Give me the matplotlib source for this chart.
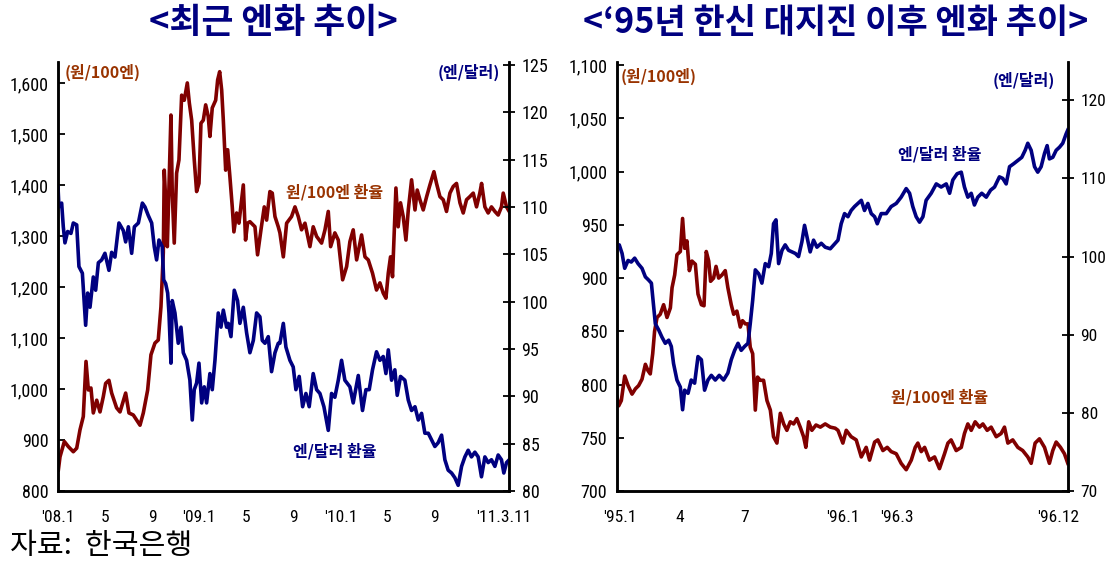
import matplotlib
matplotlib.use("Agg")
import matplotlib.pyplot as plt
from matplotlib import font_manager

# ---------------- data ----------------
# Left panel: months since '08.1
left_won_t = [0.03, 0.17, 0.54, 0.88, 1.30, 1.59, 1.87, 2.15, 2.38, 2.58, 2.80, 3.00, 3.29, 3.57, 3.85,
              4.05, 4.33, 4.56, 4.98, 5.27, 5.75, 6.03, 6.40, 6.97, 7.25, 7.62, 7.90, 8.24, 8.52, 8.75,
              8.95, 9.03, 9.15, 9.29, 9.43, 9.60, 9.71, 9.88, 10.08, 10.28, 10.51, 10.73, 10.99, 11.16,
              11.36, 11.58, 11.78, 11.98, 12.15, 12.35, 12.55, 12.77, 12.91, 13.11, 13.40, 13.57, 13.74,
              13.91, 14.05, 14.25, 14.42, 14.61, 14.81, 14.95, 15.18, 15.38, 15.75, 15.94, 16.11, 16.31,
              16.74, 16.96, 17.25, 17.53, 17.73, 18.01, 18.21, 18.44, 18.72,
              18.86, 19.15, 19.43, 19.85, 20.14, 20.42, 20.70, 20.99, 21.41, 21.69, 21.98, 22.40, 22.69,
              22.97, 23.17, 23.53, 23.82, 24.19, 24.53, 24.81, 25.09, 25.38, 25.80, 26.09, 26.37, 26.73,
              27.07, 27.36, 27.64, 27.87, 28.07, 28.26, 28.43, 28.72, 28.91, 29.11, 29.34, 29.57, 29.77,
              30.05, 30.34, 30.53, 30.76, 31.04, 31.33, 31.61, 31.95, 32.17, 32.46, 32.74, 33.02, 33.31,
              33.59, 33.87, 34.16, 34.44, 34.72, 35.00, 35.29, 35.57, 35.85, 36.00, 36.28, 36.56, 36.84,
              37.13, 37.41, 37.69, 37.84, 38.12, 38.35]
left_won = [841, 867, 897, 887, 877, 884, 920, 946, 1054, 998, 1002, 953, 978, 955, 985,
            1011, 1017, 992, 963, 955, 992, 953, 949, 929, 953, 998, 1067, 1090, 1096, 1161,
            1267, 1429, 1371, 1279, 1397, 1537, 1384, 1286, 1423, 1449, 1576, 1566, 1600, 1561,
            1527, 1449, 1387, 1403, 1521, 1527, 1557, 1534, 1495, 1551, 1566, 1606, 1622,
            1586, 1527, 1429, 1469, 1416, 1357, 1308, 1345, 1325, 1400, 1292, 1325, 1328,
            1318, 1263, 1312, 1357, 1331, 1387, 1384, 1338, 1318,
            1306, 1259, 1325, 1338, 1357, 1338, 1312, 1325, 1279, 1318, 1299, 1286, 1312,
            1348, 1279, 1306, 1292, 1214, 1240, 1289, 1312, 1253, 1302, 1259, 1253, 1227,
            1194, 1208, 1188, 1178, 1227, 1259, 1220, 1394, 1318, 1365, 1338, 1292, 1351,
            1410, 1351, 1390, 1371, 1351, 1377, 1400, 1426, 1403, 1377, 1371, 1348, 1384,
            1397, 1403, 1365, 1345, 1371, 1377, 1384, 1357, 1384, 1403, 1357, 1345, 1357,
            1348, 1341, 1357, 1384, 1357, 1348]

left_usd_t = [0.00, 0.08, 0.31, 0.45, 0.59, 0.82, 1.10, 1.30, 1.59, 1.78, 2.07, 2.35, 2.52, 2.72, 3.00,
              3.20, 3.43, 3.71, 3.99, 4.33, 4.56, 4.84, 5.18, 5.55, 5.75, 5.98, 6.26, 6.49, 6.83, 7.17,
              7.39, 7.67, 7.96, 8.18, 8.38, 8.58, 8.86, 8.98, 9.15, 9.32, 9.43, 9.60, 9.71, 9.94, 10.22,
              10.45, 10.65, 10.93, 11.21, 11.41, 11.58, 11.78, 11.98, 12.21, 12.43, 12.63, 12.91, 13.11,
              13.34, 13.62, 13.85, 14.05, 14.33, 14.47, 14.70, 14.98, 15.26, 15.46, 15.75, 16.03, 16.31,
              16.60, 16.88, 17.16, 17.36, 17.59, 17.87, 18.15, 18.44, 18.72,
              18.86, 19.15, 19.37, 19.71, 19.99, 20.22, 20.50, 20.79, 21.07, 21.35, 21.69, 21.98, 22.26,
              22.60, 22.97, 23.25, 23.53, 23.82, 24.10, 24.38, 24.81, 25.09, 25.52, 25.88, 26.17, 26.45,
              26.73, 27.07, 27.36, 27.64, 27.87, 28.07, 28.35, 28.63, 28.83, 29.11, 29.48, 29.77, 30.05,
              30.34, 30.62, 30.90, 31.18, 31.47, 31.75, 32.03, 32.31, 32.60, 32.88, 33.16, 33.45, 33.73,
              34.01, 34.30, 34.58, 34.86, 35.14, 35.43, 35.71, 35.99, 36.28, 36.56, 36.84, 37.13, 37.41,
              37.69, 37.89, 38.12, 38.35]
left_usd = [112.1, 110.0, 110.4, 107.9, 106.2, 107.4, 107.2, 108.3, 108.1, 103.7, 103.0, 97.5, 100.9, 99.4, 102.6,
            101.2, 104.1, 104.4, 105.1, 103.3, 105.2, 104.7, 108.3, 107.5, 106.3, 107.9, 105.1, 107.9, 108.3, 110.4,
            110.0, 109.1, 108.3, 105.8, 104.4, 106.5, 105.8, 102.3, 101.9, 100.9, 98.8, 93.5, 100.1, 98.8, 95.6,
            97.3, 94.6, 93.8, 91.7, 87.5, 90.7, 91.4, 93.5, 89.3, 91.0, 89.3, 92.4, 90.7,
            93.8, 98.8, 97.3, 99.1, 97.3, 97.7, 96.3, 101.2, 100.1, 97.7, 99.4, 96.7, 94.6,
            95.9, 98.8, 98.4, 95.9, 95.6, 96.3, 92.6, 94.6, 95.6,
            95.6, 97.7, 95.2, 93.8, 93.1, 90.7, 92.1, 88.9, 90.3, 88.9, 92.4, 90.7, 90.3,
            88.9, 86.4, 90.3, 89.9, 91.7, 93.8, 91.7, 91.0, 89.3, 92.2, 88.5, 90.7, 90.7,
            92.8, 94.7, 93.8, 94.2, 92.4, 94.9, 91.7, 92.8, 90.1, 92.1, 91.7, 89.6, 88.5,
            88.9, 87.5, 88.2, 86.1, 86.1, 85.4, 84.7, 85.1, 85.9, 83.3, 82.2, 81.9, 81.4,
            80.6, 82.6, 83.6, 84.3, 83.6, 84.1, 83.6, 81.5, 83.6, 83.0, 83.3, 82.6, 83.8,
            83.3, 81.9, 83.0, 83.3]

# Right panel: months since '95.1
right_won_t = [0.00, 0.09, 0.23, 0.41, 0.59, 0.80, 0.98, 1.15, 1.33, 1.51, 1.65, 1.77, 1.90, 2.00, 2.13,
               2.30, 2.48, 2.66, 2.84, 2.93, 3.07, 3.19, 3.37, 3.49, 3.60, 3.72, 3.85, 3.99, 4.17, 4.31,
               4.49, 4.63, 4.75, 4.88, 4.98, 5.14, 5.27, 5.41, 5.59, 5.76, 5.90, 6.08, 6.21, 6.38, 6.56,
               6.68, 6.83, 6.97, 7.09, 7.22, 7.36, 7.48, 7.62, 7.80, 7.98, 8.16, 8.33, 8.51, 8.69, 8.87,
               9.04, 9.22, 9.40, 9.57, 9.75, 9.93, 10.05, 10.20, 10.37, 10.59, 10.82, 11.08, 11.35, 11.61,
               11.76, 12.02, 12.20, 12.46, 12.73, 13.00, 13.26, 13.44, 13.71, 13.88, 14.15, 14.38, 14.59,
               14.86, 15.12, 15.39, 15.66, 15.87, 16.01, 16.19, 16.37, 16.63, 16.90, 17.16, 17.43, 17.61,
               17.78, 18.05, 18.32, 18.49, 18.67, 18.85, 19.06, 19.29, 19.47, 19.70, 19.91, 20.18, 20.44,
               20.62, 20.80, 21.06, 21.33, 21.59, 21.86, 22.04, 22.25, 22.48, 22.75, 23.01, 23.19, 23.37,
               23.60, 23.81, 23.99]
right_won = [788, 780, 785, 808, 799, 791, 796, 799, 805, 819, 813, 810, 829, 850, 863,
             866, 875, 863, 872, 891, 903, 922, 925, 956, 928, 935, 907, 916, 913, 885,
             875, 874, 925, 916, 897, 900, 911, 900, 903, 907, 891, 875, 866, 869, 854,
             860, 857, 857, 835, 829, 776, 807, 804, 804, 785, 776, 751, 745, 773, 763,
             757, 765, 763, 768, 760, 751, 741, 765, 757, 762, 760, 763, 760, 759,
             757, 745, 757, 751, 748, 732, 741, 729, 746, 748, 738, 741, 737,
             735, 726, 720, 729, 741, 745, 737, 741, 729, 732, 721, 735, 745,
             748, 738, 741, 754, 763, 757, 765, 760, 763, 757, 760, 751, 754,
             760, 745, 748, 741, 738, 732, 726, 745, 749, 741, 726, 738, 746,
             741, 735, 726]

right_usd_t = [0.00, 0.12, 0.27, 0.41, 0.59, 0.76, 0.94, 1.12, 1.33, 1.51, 1.68, 1.83, 1.95, 2.04, 2.22,
               2.39, 2.57, 2.75, 2.89, 3.01, 3.19, 3.37, 3.49, 3.60, 3.78, 3.95, 4.13, 4.31, 4.49, 4.66,
               4.84, 5.02, 5.23, 5.44, 5.67, 5.90, 6.08, 6.26, 6.44, 6.61, 6.79, 6.97, 7.09, 7.22, 7.36,
               7.54, 7.71, 7.89, 8.07, 8.21, 8.33, 8.46, 8.60, 8.78, 8.95, 9.13, 9.31, 9.49, 9.66, 9.84,
               9.98, 10.11, 10.28, 10.46, 10.64, 10.87, 11.08, 11.35, 11.61,
               11.76, 11.93, 12.11, 12.29, 12.46, 12.64, 12.82, 13.00, 13.17, 13.35, 13.53, 13.71, 13.85,
               14.06, 14.33, 14.59, 14.86, 15.12, 15.39, 15.57, 15.74, 15.92, 16.10, 16.28, 16.45, 16.72,
               16.99, 17.25, 17.52, 17.70, 17.87, 18.10, 18.32, 18.49, 18.67, 18.85, 19.02, 19.20, 19.41,
               19.65, 19.88, 20.09, 20.35, 20.53, 20.71, 20.89, 21.12, 21.33, 21.54, 21.72, 21.86, 22.04,
               22.22, 22.39, 22.57, 22.75, 22.89, 23.01, 23.19, 23.37, 23.55, 23.72, 23.90, 23.99]
right_usd = [101.2, 101.5, 100.4, 98.5, 99.5, 99.3, 99.8, 99.1, 98.5, 97.4, 97.0, 96.6, 93.6, 91.4, 90.6,
             89.7, 88.9, 89.3, 88.5, 86.3, 84.2, 83.3, 80.4, 82.9, 82.5, 84.2, 83.8, 87.2, 86.8, 82.9,
             84.2, 84.8, 84.2, 84.8, 84.2, 85.1, 86.8, 88.0, 88.9, 88.0, 88.5, 88.9, 91.4, 94.4, 98.3,
             97.8, 96.6, 99.1, 98.7, 100.4, 104.2, 104.7, 99.1, 100.8, 101.5, 100.8, 100.6, 100.4, 100.0, 101.9,
             104.0, 102.5, 100.6, 102.1, 101.2, 101.7, 101.2, 101.0, 101.7,
             102.1, 104.2, 105.5, 105.1, 105.9, 106.4, 106.8, 107.2, 105.9, 106.8, 105.5, 105.1, 104.2,
             105.5, 105.5, 106.4, 106.8, 107.6, 108.7, 108.1, 106.4, 105.1, 104.4, 105.1, 107.2, 108.1,
             109.3, 108.9, 109.3, 108.1, 109.8, 110.6, 110.8, 108.9, 107.6, 108.1, 106.6, 107.6, 108.1,
             107.6, 108.5, 108.9, 110.2, 110.0, 109.3, 111.5, 111.9, 112.3, 112.7, 113.6, 114.5, 113.6,
             111.5, 110.8, 111.5, 113.2, 114.2, 112.5, 112.7, 113.6, 114.0, 114.5, 115.7, 116.2]

left_xtick_pos = [0, 4, 8, 12, 16, 20, 24, 28, 32, 37.9]
left_xtick_labels = ["'08.1", "5", "9", "'09.1", "5", "9", "'10.1", "5", "9", "'11.3.11"]
right_xtick_pos = [0.15, 3.35, 6.8, 12.0, 14.9, 23.45]
right_xtick_labels = ["'95.1", "4", "7", "'96.1", "'96.3", "'96.12"]

left_yticks = [800, 900, 1000, 1100, 1200, 1300, 1400, 1500, 1600]
left_y2ticks = [80, 85, 90, 95, 100, 105, 110, 115, 120, 125]
right_yticks = [700, 750, 800, 850, 900, 950, 1000, 1050, 1100]
right_y2ticks = [70, 80, 90, 100, 110, 120]

titles = ["<최근 엔화 추이>", "<‘95년 한신 대지진 이후 엔화 추이>"]
source_text = "자료:  한국은행"

# ---------------- style ----------------
RED = "#800000"
BLUE = "#000080"
BROWN = "#993300"
available = {f.name for f in font_manager.fontManager.ttflist}
NUM_FONT = "Liberation Sans"
for cand in ["Liberation Sans Narrow", "Arial Narrow", "Roboto Condensed", "Open Sans Condensed"]:
    if cand in available:
        NUM_FONT = cand
        break
KR = ["Noto Sans CJK KR", "DejaVu Sans"]
plt.rcParams["font.family"] = [NUM_FONT, "Noto Sans CJK KR", "DejaVu Sans"]

W, H = 1108, 562
fig = plt.figure(figsize=(W / 100, H / 100), dpi=100)


def fx(px):
    return px / W


def fy(py):
    return 1 - py / H


def make_panel(x0, x1, xmax, t1, v1, t2, v2, yl, yt, y2l, y2t, xpos, xlab, r_size):
    ax = fig.add_axes([fx(x0), fy(491), fx(x1 - x0), (491 - 62) / H])
    ax2 = ax.twinx()
    ax.plot(t1, v1, color=RED, lw=2.6, solid_joinstyle="round")
    ax2.plot(t2, v2, color=BLUE, lw=2.6, solid_joinstyle="round")
    ax.set_xlim(0, xmax)
    ax.set_ylim(*yl)
    ax2.set_ylim(*y2l)
    ax.set_yticks(yt)
    ax.set_yticklabels([f"{v:,}" for v in yt])
    ax2.set_yticks(y2t)
    ax2.set_yticklabels([str(v) for v in y2t])
    ax.set_xticks(xpos)
    ax.set_xticklabels(xlab)
    for a in (ax, ax2):
        a.spines["top"].set_visible(False)
        for s in ("left", "right", "bottom"):
            a.spines[s].set_linewidth(1.8)
            a.spines[s].set_color("black")
    ax.tick_params(axis="y", direction="in", length=5, width=1.3, labelsize=13, pad=7)
    ax2.tick_params(axis="y", direction="inout", length=8, width=1.3, labelsize=r_size, pad=5)
    ax.tick_params(axis="x", length=0, labelsize=12.5, pad=14)
    return ax, ax2


axL, axL2 = make_panel(58, 509, 38.33, left_won_t, left_won, left_usd_t, left_usd,
                       (800, 1641), left_yticks, (80, 125.3), left_y2ticks,
                       left_xtick_pos, left_xtick_labels, 13)
axR, axR2 = make_panel(617, 1068, 24.0, right_won_t, right_won, right_usd_t, right_usd,
                       (700, 1103), right_yticks, (70, 124.9), right_y2ticks,
                       right_xtick_pos, right_xtick_labels, 12.5)

# titles
fig.text(fx(273), fy(23), titles[0], family=KR, fontsize=25, fontweight="bold",
         color=BLUE, ha="center", va="center")
fig.text(fx(836), fy(23), titles[1], family=KR, fontsize=24.5, fontweight="bold",
         color=BLUE, ha="center", va="center")

# unit labels and series labels
fig.text(fx(65), fy(72), "(원/100엔)", family=KR, fontsize=11.5, fontweight="bold",
         color=BROWN, ha="left", va="center")
fig.text(fx(500), fy(72), "(엔/달러)", family=KR, fontsize=11.5, fontweight="bold",
         color=BLUE, ha="right", va="center")
fig.text(fx(335), fy(192), "원/100엔 환율", family=KR, fontsize=11.5, fontweight="bold",
         color=BROWN, ha="center", va="center")
fig.text(fx(335), fy(451), "엔/달러 환율", family=KR, fontsize=11.5, fontweight="bold",
         color=BLUE, ha="center", va="center")

fig.text(fx(621), fy(76), "(원/100엔)", family=KR, fontsize=11.5, fontweight="bold",
         color=BROWN, ha="left", va="center")
fig.text(fx(1055), fy(80), "(엔/달러)", family=KR, fontsize=11.5, fontweight="bold",
         color=BLUE, ha="right", va="center")
fig.text(fx(940), fy(154), "엔/달러 환율", family=KR, fontsize=11.5, fontweight="bold",
         color=BLUE, ha="center", va="center")
fig.text(fx(940), fy(397), "원/100엔 환율", family=KR, fontsize=11.5, fontweight="bold",
         color=BROWN, ha="center", va="center")

fig.text(fx(10), fy(546), source_text, family=KR, fontsize=21, color="black",
         ha="left", va="center")

fig.savefig("out.png", dpi=100)
